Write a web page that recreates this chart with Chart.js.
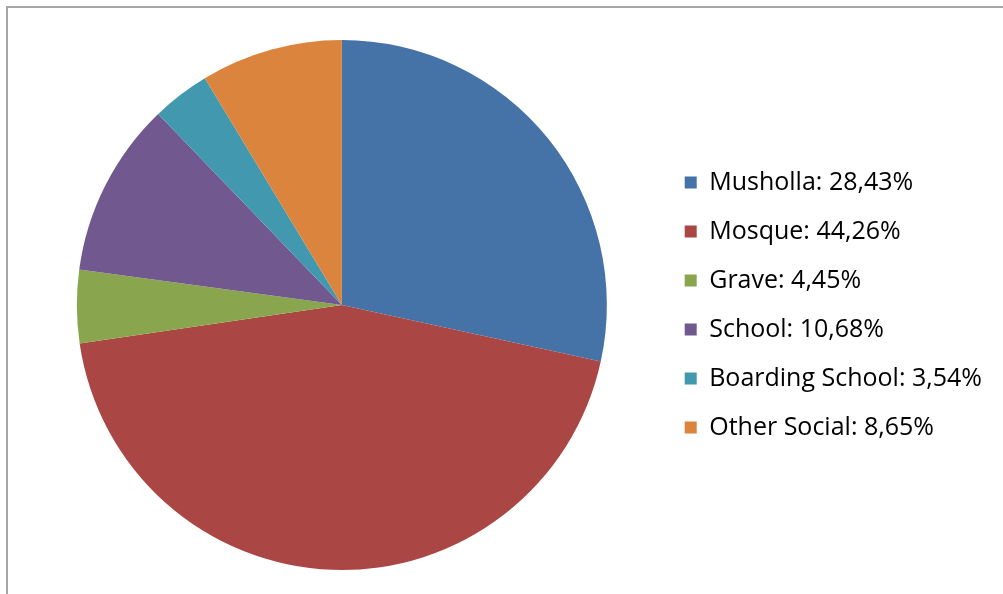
<!DOCTYPE html>
<html>
<head>
<meta charset="utf-8">
<script src="https://cdn.jsdelivr.net/npm/chart.js@4/dist/chart.umd.min.js"></script>
<style>
  html, body { margin: 0; padding: 0; background: #fff; }
  #frame {
    position: absolute; left: 6px; top: 6px; width: 997px; height: 588px;
    border-left: 2px solid #a6a6a6; border-top: 2px solid #a6a6a6;
  }
  #wrap { position: absolute; left: 0; top: 0; width: 997px; height: 588px; }
</style>
</head>
<body>
<div id="frame"><div id="wrap"><canvas id="pie"></canvas></div></div>
<script>
// Share of facilities by category (percent)
const categories = ['Musholla', 'Mosque', 'Grave', 'School', 'Boarding School', 'Other Social'];
const shares = [28.43, 44.26, 4.45, 10.68, 3.54, 8.65];
const sliceColors = ['#4572A7', '#AA4643', '#89A54E', '#71588F', '#4198AF', '#DB843D'];

const fmt = v => v.toFixed(2).replace('.', ',') + '%';

new Chart(document.getElementById('pie'), {
  type: 'pie',
  data: {
    labels: categories,
    datasets: [{
      data: shares,
      backgroundColor: sliceColors,
      borderWidth: 0
    }]
  },
  options: {
    responsive: true,
    maintainAspectRatio: false,
    animation: false,
    layout: { padding: { top: 32, bottom: 26, left: 15, right: 13 } },
    plugins: {
      tooltip: { enabled: false },
      legend: {
        position: 'right',
        labels: {
          color: '#262626',
          font: { family: 'Open Sans', size: 25 },
          boxWidth: 12,
          boxHeight: 12,
          padding: 24,
          generateLabels: chart => chart.data.labels.map((lab, i) => ({
            text: lab + ': ' + fmt(shares[i]),
            fillStyle: sliceColors[i],
            strokeStyle: sliceColors[i],
            lineWidth: 0,
            index: i
          }))
        }
      }
    }
  }
});
</script>
</body>
</html>
